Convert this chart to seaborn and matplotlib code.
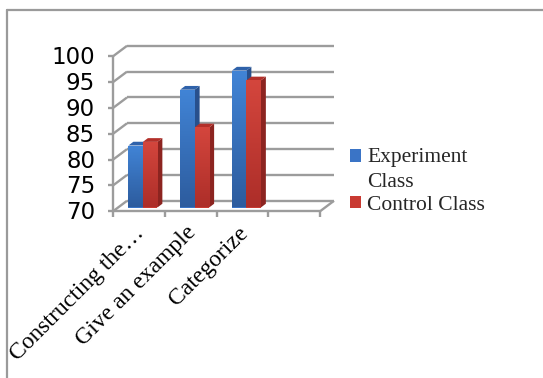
import numpy as np
import pandas as pd
import matplotlib
matplotlib.use("Agg")
import matplotlib.pyplot as plt
import seaborn as sns
import matplotlib.transforms as mtrans
from matplotlib.patches import Polygon, Patch, Rectangle
from matplotlib.lines import Line2D
from matplotlib.colors import LinearSegmentedColormap
from matplotlib.legend_handler import HandlerPatch

# ---------------- data ----------------
categories = ["Constructing the\u2026", "Give an example", "Categorize"]
series = ["Experiment Class", "Control Class"]
experiment = [82.0, 92.8, 96.5]
control = [82.7, 85.5, 94.6]
y_ticks = [70, 75, 80, 85, 90, 95, 100]
legend_labels = ["Experiment\nClass", "Control Class"]

df = pd.DataFrame({
    "category": categories * 2,
    "series": [series[0]] * len(categories) + [series[1]] * len(categories),
    "value": experiment + control,
})

# ---------------- style ----------------
sns.set_theme(style="white")
plt.rcParams["font.family"] = ["DejaVu Sans"]

W, H = 543, 378
fig = plt.figure(figsize=(W / 100, H / 100), dpi=100)
fig.patch.set_facecolor("white")

# axes = front plane of the bars
ax = fig.add_axes([117 / W, (H - 207.5) / H, 207 / W, 155 / H])
ax.set_facecolor("none")

front_col = {series[0]: "#3a74c6", series[1]: "#c93a32"}
top_col = {series[0]: "#2f62aa", series[1]: "#b3302a"}
side_col = {series[0]: "#28508c", series[1]: "#8c2420"}
grad_top = {series[0]: "#4184d6", series[1]: "#d4463d"}
grad_bot = {series[0]: "#2d5c9e", series[1]: "#ad2e29"}

sns.barplot(data=df, x="category", y="value", hue="series", order=categories,
            hue_order=series, palette=front_col, width=0.56, dodge=True,
            saturation=1, legend=False, ax=ax, zorder=3, linewidth=0)

ax.set_xlim(-0.5, 3.5)
ax.set_ylim(y_ticks[0], y_ticks[-1])
ax.set_autoscale_on(False)
for s in ax.spines.values():
    s.set_visible(False)
ax.set_xticks([])
ax.set_yticks([])
ax.set_xlabel("")
ax.set_ylabel("")

IDT = mtrans.IdentityTransform()
FRONT = np.array([-4.0, -3.8])
BACK = np.array([10.0, 6.7])
DEPTH = np.array([5.0, 3.75])
GRID = "#9c9c9c"
LW = 1.7


def T(x, v):
    return ax.transData.transform((x, v))


def line(p, q, color=GRID, lw=LW, z=1):
    ax.add_line(Line2D([p[0], q[0]], [p[1], q[1]], color=color, lw=lw,
                       transform=IDT, clip_on=False, zorder=z,
                       solid_capstyle="butt"))


x0, x1 = -0.5, 3.5
vmin = y_ticks[0]
# back wall gridlines + side wall diagonals
for v in y_ticks:
    line(T(x0, v) + BACK, T(x1, v) + BACK)
    line(T(x0, v) + FRONT, T(x0, v) + BACK)
    line(T(x0, v) + FRONT + np.array([-5, 0]), T(x0, v) + FRONT)
    ax.text(*(T(x0, v) + FRONT + np.array([-18, -1.5])), str(v), transform=IDT,
            ha="right", va="center", fontsize=16.5, color="black",
            family="DejaVu Sans", clip_on=False)
# front left vertical axis
line(T(x0, vmin) + FRONT, T(x0, y_ticks[-1]) + FRONT)
# floor
line(T(x0, vmin) + FRONT, T(x1, vmin) + FRONT)
line(T(x1, vmin) + FRONT, T(x1, vmin) + BACK)
for k in range(5):
    xb = -0.5 + k
    line(T(xb, vmin) + FRONT, T(xb, vmin) + FRONT + np.array([0, -6]))

# 3D faces for bars
patches = [p for p in ax.patches if np.isfinite(p.get_height())]
for i, p in enumerate(patches):
    s = series[0] if i < len(categories) else series[1]
    bx0 = p.get_x()
    bx1 = bx0 + p.get_width()
    top = p.get_y() + p.get_height()
    A = T(bx1, vmin)
    B = T(bx1, top)
    C = T(bx0, top)
    side = Polygon([A, B, B + DEPTH, A + DEPTH], closed=True, transform=IDT,
                   facecolor=side_col[s], edgecolor="none", zorder=2.5,
                   clip_on=False)
    cap = Polygon([C, B, B + DEPTH, C + DEPTH], closed=True, transform=IDT,
                  facecolor=top_col[s], edgecolor="none", zorder=2.5,
                  clip_on=False)
    ax.add_patch(side)
    ax.add_patch(cap)
    cmap = LinearSegmentedColormap.from_list("g", [grad_bot[s], grad_top[s]])
    grad = np.linspace(0, 1, 64).reshape(-1, 1)
    im = ax.imshow(grad, cmap=cmap, extent=[bx0, bx1, vmin, top],
                   origin="lower", aspect="auto", zorder=3.1,
                   interpolation="bilinear")
    im.set_clip_path(p)

ax.set_xlim(-0.5, 3.5)
ax.set_ylim(y_ticks[0], y_ticks[-1])

# category labels
for i, c in enumerate(categories):
    px = T(i, vmin) + FRONT + np.array([-5, -11])
    ax.text(px[0], px[1], c, transform=IDT, rotation=45,
            rotation_mode="anchor", ha="right", va="top", fontsize=17,
            family="Liberation Serif", color="black", clip_on=False)

# legend
LEG_FS = 15.5
LINE_SP = 1.4


def first_line_patch(legend, orig_handle, xdescent, ydescent, width, height,
                     fontsize):
    shift = fontsize * LINE_SP * 0.45
    return Rectangle((-xdescent, -ydescent + shift), width, height)


handles = [Patch(facecolor=front_col[s], edgecolor="none") for s in series]
leg = ax.legend(handles, legend_labels, loc="upper left",
                bbox_to_anchor=(350 / W, 1 - 148 / H),
                bbox_transform=fig.transFigure, frameon=False,
                prop={"family": "Liberation Serif", "size": LEG_FS},
                handlelength=0.5, handleheight=0.5, handletextpad=0.3,
                labelspacing=0.2, borderpad=0, borderaxespad=0,
                handler_map={handles[0]: HandlerPatch(patch_func=first_line_patch)})
for t in leg.get_texts():
    t.set_linespacing(LINE_SP)

# outer border (top and left)
fig.add_artist(Line2D([7 / W, 1], [1 - 9.5 / H, 1 - 9.5 / H],
                      transform=fig.transFigure, color="#9a9a9a", lw=1.6))
fig.add_artist(Line2D([7 / W, 7 / W], [0, 1 - 9.5 / H],
                      transform=fig.transFigure, color="#9a9a9a", lw=1.6))

fig.savefig("out.png", dpi=100)
